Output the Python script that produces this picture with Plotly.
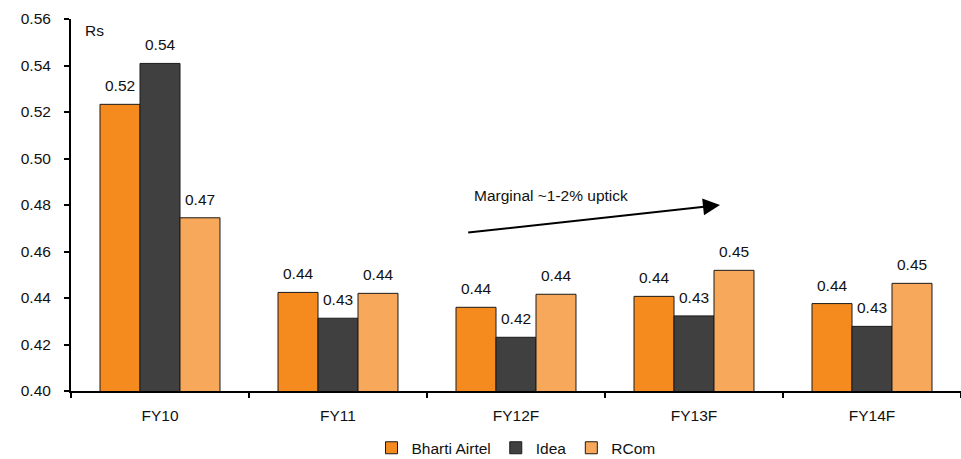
import plotly.graph_objects as go

# Revenue per minute (Rs) by operator and fiscal year
categories = ["FY10", "FY11", "FY12F", "FY13F", "FY14F"]
bharti_airtel = [0.5233, 0.4424, 0.4360, 0.4407, 0.4376]
idea = [0.5409, 0.4313, 0.4231, 0.4323, 0.4278]
rcom = [0.4745, 0.4420, 0.4416, 0.4519, 0.4463]

series = [
    ("Bharti Airtel", bharti_airtel, "#F58B1F"),
    ("Idea", idea, "#404040"),
    ("RCom", rcom, "#F8A85A"),
]

FONT = "Liberation Sans, Arial, sans-serif"
FS = 15.5
fig = go.Figure()

for name, vals, color in series:
    fig.add_trace(go.Bar(
        x=categories, y=vals, name=name,
        marker=dict(color=color, line=dict(color="#1a1a1a", width=1)),
    ))

# value labels above each bar
bar_px = 40
for i, (name, vals, color) in enumerate(series):
    for cat, v in zip(categories, vals):
        fig.add_annotation(
            x=cat, y=v, xref="x", yref="y",
            text=f"{v:.2f}", showarrow=False,
            xshift=(i - 1) * bar_px, yshift=8, yanchor="bottom",
            font=dict(family=FONT, size=FS, color="#111"),
        )

# trend arrow and caption
fig.add_annotation(
    x=3.146, y=0.4800, ax=1.723, ay=0.4681,
    xref="x", yref="y", axref="x", ayref="y",
    showarrow=True, arrowhead=2, arrowsize=1.7, arrowwidth=2, arrowcolor="#000",
    text="",
)
fig.add_annotation(
    x=1.755, y=0.4843, xref="x", yref="y", xanchor="left", yanchor="middle",
    text="Marginal ~1-2% uptick", showarrow=False,
    font=dict(family=FONT, size=FS, color="#111"),
)
fig.add_annotation(
    x=0.013, y=0.97, xref="paper", yref="paper", xanchor="left", yanchor="middle",
    text="Rs", showarrow=False,
    font=dict(family=FONT, size=FS, color="#111"),
)

fig.update_layout(
    width=961, height=459,
    margin=dict(l=71, r=0, t=19, b=68, autoexpand=False),
    paper_bgcolor="white", plot_bgcolor="white",
    barmode="group", bargap=0.326, bargroupgap=0,
    font=dict(family=FONT, size=FS, color="#111"),
    showlegend=True,
    legend=dict(
        orientation="h", x=0.5, xanchor="center",
        yref="paper", y=-0.108, yanchor="top",
        font=dict(family=FONT, size=FS), itemwidth=30, tracegroupgap=0,
    ),
    xaxis=dict(
        showline=True, linecolor="#000", linewidth=2,
        ticks="outside", tickson="boundaries", ticklen=5, tickwidth=2, tickcolor="#000",
        ticklabelstandoff=9,
        showgrid=False, zeroline=False,
    ),
    yaxis=dict(
        range=[0.40, 0.56], dtick=0.02, tickformat=".2f",
        showline=True, linecolor="#000", linewidth=2,
        ticks="outside", ticklen=5, tickwidth=2, tickcolor="#000",
        ticklabelstandoff=10,
        showgrid=False, zeroline=False,
    ),
)

fig.write_html("out.html")
